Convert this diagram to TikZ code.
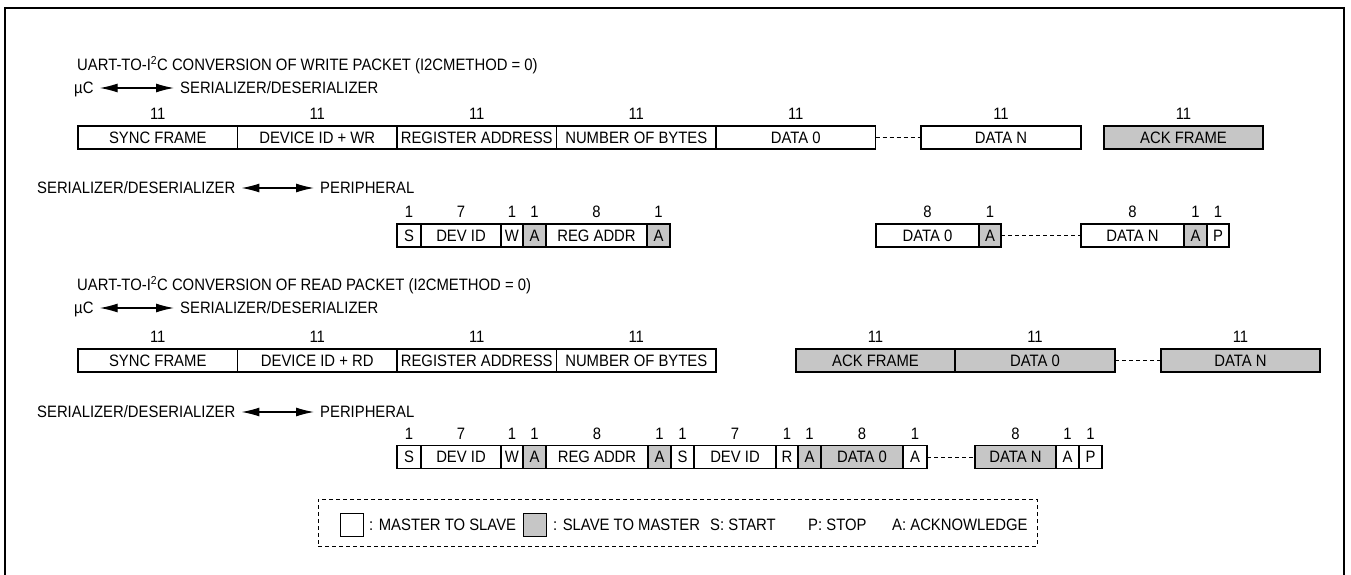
\documentclass[tikz,border=0pt]{standalone}
\usepackage{fontspec}
\setmainfont{Liberation Sans}[FakeStretch=0.9]
\usepackage{xcolor}
\usepackage{tikz}
\usetikzlibrary{arrows.meta,positioning}

\definecolor{slavegray}{RGB}{198,198,198}

\tikzset{
  lbl/.style={inner sep=0pt, text height=11.8pt, text depth=0pt, anchor=west},
  fld/.style={draw, line width=1.3pt, outer sep=0pt, inner sep=0pt,
    minimum height=23pt, text height=11.8pt, text depth=0pt},
  ackfld/.style={fld, fill=slavegray},
  bitnum/.style={inner sep=0pt, text height=11.8pt, text depth=0pt},
  dirarrow/.style={{Latex[length=18pt,width=9pt]}-{Latex[length=18pt,width=9pt]},
    line width=1.2pt, shorten <=6pt, shorten >=6pt},
  gapline/.style={dash pattern=on 4pt off 3pt, line width=0.9pt},
  legbox/.style={draw, dash pattern=on 4pt off 3pt, line width=0.9pt,
    minimum width=719pt, minimum height=47pt, inner sep=0pt}
}

\begin{document}
\begin{tikzpicture}[x=1pt, y=-1pt, font=\fontsize{16.5pt}{19pt}\selectfont]

\useasboundingbox (0,0) rectangle (1351,575);

% Outer frame (open at the bottom)
\draw[line width=2.2pt] (5,580) -- (5,8) -- (1344,8) -- (1344,580);

% ---------------- Write packet ----------------
\node[lbl] (wtitle) at (77,65) {UART-TO-I\textsuperscript{2}C CONVERSION OF WRITE PACKET (I2CMETHOD = 0)};
\node[lbl] (wuc) at (74,88) {µC};
\node[lbl] (wser) at (180,88) {SERIALIZER/DESERIALIZER};
\draw[dirarrow] (wuc) -- (wser);

% UART frames
\node[fld, minimum width=159.5pt, anchor=west] (wsync) at (78,137.5) {SYNC FRAME};
\node[fld, minimum width=159.5pt, right=0pt of wsync] (wdev) {DEVICE ID + WR};
\node[fld, minimum width=159.5pt, right=0pt of wdev] (wreg) {REGISTER ADDRESS};
\node[fld, minimum width=159.5pt, right=0pt of wreg] (wnum) {NUMBER OF BYTES};
\node[fld, minimum width=159.5pt, right=0pt of wnum] (wd0) {DATA 0};
\node[fld, minimum width=160pt, anchor=west] (wdn) at (921,137.5) {DATA N};
\node[ackfld, minimum width=159pt, anchor=west] (wack) at (1104,137.5) {ACK FRAME};
\draw[gapline] (wd0.east) -- (wdn.west);

\node[bitnum, above=6pt of wsync] (wsyncn) {11};
\node[bitnum, above=6pt of wdev] (wdevn) {11};
\node[bitnum, above=6pt of wreg] (wregn) {11};
\node[bitnum, above=6pt of wnum] (wnumn) {11};
\node[bitnum, above=6pt of wd0] (wd0n) {11};
\node[bitnum, above=6pt of wdn] (wdnn) {11};
\node[bitnum, above=6pt of wack] (wackn) {11};

% I2C side of the write
\node[lbl] (pser) at (37,188) {SERIALIZER/DESERIALIZER};
\node[lbl] (pper) at (320,188) {PERIPHERAL};
\draw[dirarrow] (pser) -- (pper);

\node[fld, minimum width=24pt, anchor=west] (ps) at (397,235.5) {S};
\node[fld, minimum width=80pt, right=0pt of ps] (pdev) {DEV ID};
\node[fld, minimum width=22pt, right=0pt of pdev] (pw) {W};
\node[ackfld, minimum width=23pt, right=0pt of pw] (pa1) {A};
\node[fld, minimum width=101pt, right=0pt of pa1] (preg) {REG ADDR};
\node[ackfld, minimum width=23pt, right=0pt of preg] (pa2) {A};
\node[fld, minimum width=103pt, anchor=west] (pd0) at (876,235.5) {DATA 0};
\node[ackfld, minimum width=22pt, right=0pt of pd0] (pa3) {A};
\node[fld, minimum width=103pt, anchor=west] (pdn) at (1081,235.5) {DATA N};
\node[ackfld, minimum width=23pt, right=0pt of pdn] (pa4) {A};
\node[fld, minimum width=22pt, right=0pt of pa4] (pp) {P};
\draw[gapline] (pa3.east) -- (pdn.west);

\node[bitnum, above=6pt of ps] (psn) {1};
\node[bitnum, above=6pt of pdev] (pdevn) {7};
\node[bitnum, above=6pt of pw] (pwn) {1};
\node[bitnum, above=6pt of pa1] (pa1n) {1};
\node[bitnum, above=6pt of preg] (pregn) {8};
\node[bitnum, above=6pt of pa2] (pa2n) {1};
\node[bitnum, above=6pt of pd0] (pd0n) {8};
\node[bitnum, above=6pt of pa3] (pa3n) {1};
\node[bitnum, above=6pt of pdn] (pdnn) {8};
\node[bitnum, above=6pt of pa4] (pa4n) {1};
\node[bitnum, above=6pt of pp] (ppn) {1};

% ---------------- Read packet ----------------
\node[lbl] (rtitle) at (77,285) {UART-TO-I\textsuperscript{2}C CONVERSION OF READ PACKET (I2CMETHOD = 0)};
\node[lbl] (ruc) at (74,308) {µC};
\node[lbl] (rser) at (180,308) {SERIALIZER/DESERIALIZER};
\draw[dirarrow] (ruc) -- (rser);

% UART frames
\node[fld, minimum width=159.5pt, anchor=west] (rsync) at (78,360.5) {SYNC FRAME};
\node[fld, minimum width=159.5pt, right=0pt of rsync] (rdev) {DEVICE ID + RD};
\node[fld, minimum width=159.5pt, right=0pt of rdev] (rreg) {REGISTER ADDRESS};
\node[fld, minimum width=159.5pt, right=0pt of rreg] (rnum) {NUMBER OF BYTES};
\node[ackfld, minimum width=159pt, anchor=west] (rack) at (796,360.5) {ACK FRAME};
\node[ackfld, minimum width=160pt, right=0pt of rack] (rd0) {DATA 0};
\node[ackfld, minimum width=159pt, anchor=west] (rdn) at (1161,360.5) {DATA N};
\draw[gapline] (rd0.east) -- (rdn.west);

\node[bitnum, above=6pt of rsync] (rsyncn) {11};
\node[bitnum, above=6pt of rdev] (rdevn) {11};
\node[bitnum, above=6pt of rreg] (rregn) {11};
\node[bitnum, above=6pt of rnum] (rnumn) {11};
\node[bitnum, above=6pt of rack] (rackn) {11};
\node[bitnum, above=6pt of rd0] (rd0n) {11};
\node[bitnum, above=6pt of rdn] (rdnn) {11};

% I2C side of the read
\node[lbl] (qser) at (37,412) {SERIALIZER/DESERIALIZER};
\node[lbl] (qper) at (320,412) {PERIPHERAL};
\draw[dirarrow] (qser) -- (qper);

\node[fld, minimum width=24pt, anchor=west] (qs1) at (397,457) {S};
\node[fld, minimum width=80pt, right=0pt of qs1] (qdev1) {DEV ID};
\node[fld, minimum width=22pt, right=0pt of qdev1] (qw) {W};
\node[ackfld, minimum width=23pt, right=0pt of qw] (qa1) {A};
\node[fld, minimum width=102pt, right=0pt of qa1] (qreg) {REG ADDR};
\node[ackfld, minimum width=23pt, right=0pt of qreg] (qa2) {A};
\node[fld, minimum width=23pt, right=0pt of qa2] (qs2) {S};
\node[fld, minimum width=82pt, right=0pt of qs2] (qdev2) {DEV ID};
\node[fld, minimum width=22pt, right=0pt of qdev2] (qr) {R};
\node[ackfld, minimum width=23pt, right=0pt of qr] (qa3) {A};
\node[ackfld, minimum width=82pt, right=0pt of qa3] (qd0) {DATA 0};
\node[fld, minimum width=24pt, right=0pt of qd0] (qa4) {A};
\node[ackfld, minimum width=81pt, anchor=west] (qdn) at (975,457) {DATA N};
\node[fld, minimum width=23pt, right=0pt of qdn] (qa5) {A};
\node[fld, minimum width=23pt, right=0pt of qa5] (qp) {P};
\draw[gapline] (qa4.east) -- (qdn.west);

\node[bitnum, above=6pt of qs1] (qs1n) {1};
\node[bitnum, above=6pt of qdev1] (qdev1n) {7};
\node[bitnum, above=6pt of qw] (qwn) {1};
\node[bitnum, above=6pt of qa1] (qa1n) {1};
\node[bitnum, above=6pt of qreg] (qregn) {8};
\node[bitnum, above=6pt of qa2] (qa2n) {1};
\node[bitnum, above=6pt of qs2] (qs2n) {1};
\node[bitnum, above=6pt of qdev2] (qdev2n) {7};
\node[bitnum, above=6pt of qr] (qrn) {1};
\node[bitnum, above=6pt of qa3] (qa3n) {1};
\node[bitnum, above=6pt of qd0] (qd0n) {8};
\node[bitnum, above=6pt of qa4] (qa4n) {1};
\node[bitnum, above=6pt of qdn] (qdnn) {8};
\node[bitnum, above=6pt of qa5] (qa5n) {1};
\node[bitnum, above=6pt of qp] (qpn) {1};

% ---------------- Legend ----------------
\node[legbox] (leg) at (677.5,522.5) {};
\node[fld, line width=1pt, minimum width=23pt, anchor=west] (legm) at (340,524.5) {};
\node[lbl] (legmt) at (369,524.5) {: MASTER TO SLAVE};
\node[ackfld, line width=1pt, minimum width=23pt, anchor=west] (legs) at (523,524.5) {};
\node[lbl] (legst) at (553,524.5) {: SLAVE TO MASTER};
\node[lbl] (legstart) at (710,524.5) {S: START};
\node[lbl] (legstop) at (808,524.5) {P: STOP};
\node[lbl] (legack) at (892,524.5) {A: ACKNOWLEDGE};

\end{tikzpicture}
\end{document}
